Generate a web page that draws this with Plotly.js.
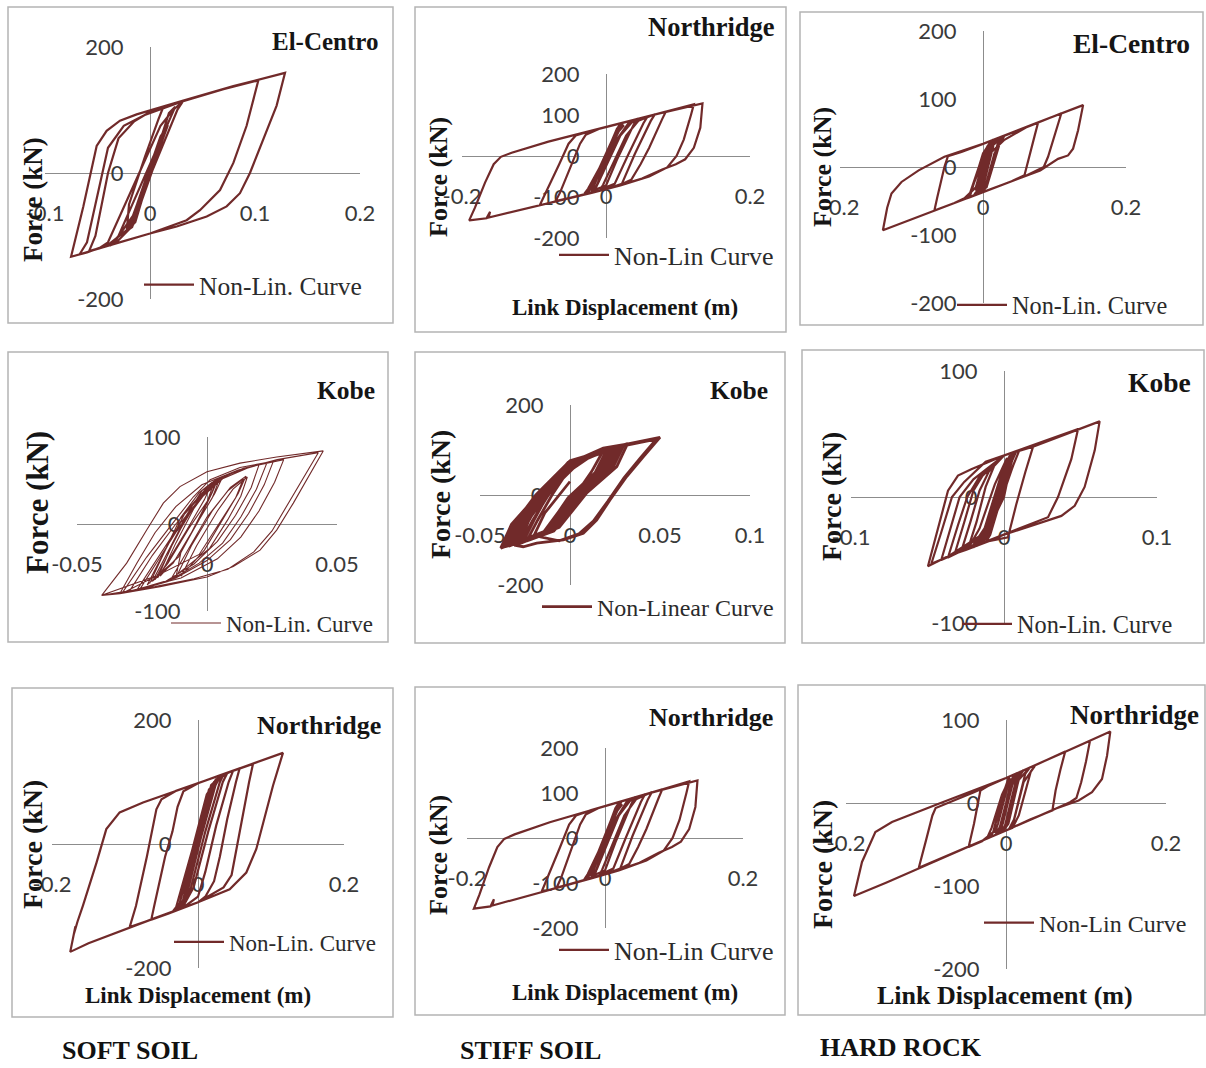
<!DOCTYPE html>
<html><head><meta charset="utf-8">
<script src="https://cdn.plot.ly/plotly-3.0.1.min.js"></script>
<style>html,body{margin:0;padding:0;background:#fff}</style>
</head><body><div id="chart" style="width:1206px;height:1068px"></div>
<script>
// ---------- DATA (link displacement in m, force in kN) ----------
const dispSoftElCentro = [0,0.010,0.016,0.012,-0.010,-0.020,-0.016,0.004,0.015,0.011,-0.012,-0.022,-0.017,0.006,0.017,0.013,-0.008,-0.019,-0.032,-0.049,-0.040,0.010,0.022,0.031,0.026,0.005,-0.015,-0.035,-0.038,-0.030,0.012,0.020,0.024,0.018,0.000,-0.020,-0.040,-0.060,-0.0752,-0.0635,-0.0508,-0.0413,-0.0286,-0.0127,0,0.0317,0.0794,0.1286,0.1206,0.1079,0.0952,0.0857,0.073,0.054,0.0254,0,-0.038,-0.067,-0.060,-0.048,-0.040,-0.025,-0.005,0.030,0.070,0.1032,0.092,0.0794,0.0667,0.0476,0.0349,0,-0.030,-0.058,-0.052,-0.040,-0.030,-0.015,0,0.012,0.008,-0.005,-0.020,-0.022,-0.016,0.004,0.014,0.010,-0.012,-0.019,-0.014,0];
const forceSoftElCentro = [0,45,72,62,-40,-85,-80,15,70,60,-50,-92,-86,25,76,66,-30,-88,-110,-120,-110,75,100,113,100,15,-65,-112,-115,-100,60,90,105,95,0,-88,-114,-126,-133,-53,43,67,83,93,99,115,138,159,107,53,0,-32,-53,-69,-85,-96,-115,-129,-110,-20,40,75,92,113,133,147,75,16,-27,-59,-75,-96,-111,-124,-100,0,55,82,97,102,85,25,-50,-90,-82,12,68,58,-48,-86,-78,0];

const dispStiffNorthridge = [0,0.012,0.018,0.014,-0.012,-0.026,-0.022,0.006,0.020,0.015,-0.008,-0.028,-0.023,0.010,0.024,0.018,-0.005,-0.020,-0.015,0.015,0.032,0.044,0.038,0.015,0.000,-0.018,-0.012,0.020,0.036,0.058,0.052,0.030,0.012,-0.008,-0.004,0.028,0.045,0.068,0.062,0.040,0.022,0.005,-0.030,-0.060,-0.092,-0.085,-0.065,-0.052,-0.042,-0.020,0.000,0.040,0.083,0.078,0.060,0.048,0.035,0.020,0.000,-0.035,-0.070,-0.064,-0.048,-0.036,-0.028,-0.010,0.030,0.070,0.122,0.118,0.108,0.098,0.085,0.060,0.020,-0.020,-0.060,-0.100,-0.140,-0.163,-0.161,-0.166,-0.190,-0.182,-0.168,-0.156,-0.146,-0.131,-0.080,0.000,0.070,0.134,0.131,0.122,0.110,0.097,0.078,0.050,0.000,-0.030,-0.025,0.000,0.015,0.025,0.018,-0.006,-0.020,-0.014,0.004,0.016,0.000];
const forceStiffNorthridge = [0,40,72,60,-40,-88,-80,15,78,66,-30,-90,-84,30,82,70,-20,-88,-80,40,82,91,75,-10,-72,-84,-70,50,82,97,80,0,-68,-82,-70,50,86,102,85,5,-68,-78,-94,-106,-120,-95,-20,30,50,62,71,88,108,90,20,-20,-58,-70,-81,-96,-110,-90,-20,30,52,66,84,103,126,100,40,0,-28,-50,-72,-90,-107,-124,-141,-150,-136,-152,-157,-126,-65,-20,-2,8,35,71,102,128,69,20,-8,-20,-33,-55,-81,-92,-80,0,55,75,62,-30,-85,-78,5,60,0];

const dispHardElCentro = [0,0.010,0.014,0.010,-0.004,-0.012,-0.008,0.008,0.020,0.016,0.000,-0.008,-0.004,0.012,0.026,0.022,0.006,-0.002,0.002,0.016,0.030,0.025,0.005,-0.015,-0.022,-0.018,0.000,0.010,0.006,-0.010,-0.026,-0.040,-0.068,-0.064,-0.054,-0.049,-0.030,0.000,0.040,0.077,0.072,0.058,0.040,0.000,-0.030,-0.060,-0.090,-0.140,-0.134,-0.128,-0.114,-0.090,-0.054,0.000,0.070,0.140,0.133,0.126,0.119,0.105,0.080,0.040,0.000,-0.020,-0.015,0.000,0.030,0.060,0.1096,0.100,0.091,0.085,0.060,0.030,0.000,-0.024,-0.018,0.000,0.012,0.008,-0.006,-0.010,-0.004,0.000];
const forceHardElCentro = [0,38,40,30,-30,-40,-38,25,42,38,-30,-40,-36,30,44,40,-24,-36,-34,20,46,40,-30,-43,-46,-42,20,36,30,-30,-46,-53,-64,-45,0,16,22,34,50,65,45,-12,-21,-37,-49,-61,-73,-93,-60,-39,-22,-5,15,34,63,91,54,27,17,12,-5,-21,-37,-45,-30,10,40,58,79,45,15,0,-13,-25,-37,-46,-38,18,38,30,-25,-35,-28,0];

const dispSoftKobe = [-0.022,-0.016,-0.008,0.000,0.004,0.001,-0.007,-0.015, -0.020,-0.015,-0.009,-0.002,0.003,0.000,-0.006,-0.013, -0.021,-0.013,-0.006,0.001,0.005,0.002,-0.005,-0.012, -0.018,-0.012,-0.005,0.002,0.006,0.003,-0.004,-0.011, -0.023,-0.017,-0.010,-0.003,0.002,-0.001,-0.008,-0.016, -0.019,-0.014,-0.007,0.000,0.004,0.002,-0.003,-0.010, -0.012,-0.006,0.002,0.009,0.015,0.012,0.006,-0.001, -0.010,-0.004,0.004,0.010,0.0155,0.013,0.008,0.001, -0.014,-0.007,0.000,0.008,0.014,0.011,0.004,-0.003, -0.0328,-0.0232,-0.0142,-0.0053,0.0012,0.0127,0.0255,0.022,0.016,0.009,0.000,-0.012, -0.030,-0.021,-0.012,-0.003,0.005,0.014,0.023,0.019,0.013,0.006,-0.003,-0.015, -0.027,-0.018,-0.010,-0.002,0.006,0.013,0.020,0.017,0.011,0.004,-0.005,-0.016, -0.0256,-0.018,-0.011,-0.003,0.006,0.017,0.0295,0.026,0.020,0.013,0.004,-0.010, -0.0335,-0.027,-0.020,-0.012,-0.002,0.012,0.027,0.0428,0.0365,0.0315,0.025,0.018,0.008,-0.005,-0.020, -0.0405,-0.0309,-0.0232,-0.0168,-0.0104,0,0.0127,0.0268,0.0447,0.0383,0.0332,0.0268,0.0204,0.0101,0,-0.018,-0.0335,-0.0405, -0.020,-0.012,-0.004,0.003];
const forceSoftKobe = [-68,-30,15,42,52,30,-5,-45, -64,-35,5,38,50,25,-10,-45, -66,-20,20,45,53,30,-5,-40, -60,-22,18,46,54,35,0,-38, -70,-35,8,36,48,28,-8,-48, -62,-28,12,40,50,36,5,-32, -62,-25,15,42,55,35,5,-30, -60,-25,15,40,54,32,5,-28, -64,-28,8,38,52,30,-2,-35, -80,-38,-3,31,51,65,72,45,12,-18,-42,-62, -78,-36,0,30,52,64,70,40,8,-22,-45,-66, -76,-34,2,32,54,62,68,42,10,-20,-46,-66, -74,-38,-5,28,52,66,74,48,15,-15,-40,-62, -80,-45,-10,20,45,62,74,82,50,24,-8,-32,-52,-63,-72, -82,-45,-7,24,43,60,70,77,84,51,24,-7,-30,-49,-61,-72,-80,-82, -60,-15,25,50];

const dispStiffKobe = [-0.0385,-0.0325,-0.018,0.002,0.030,0.024,0.006,-0.012, -0.036,-0.030,-0.016,0.002,0.028,0.022,0.004,-0.012, -0.033,-0.027,-0.014,0.002,0.026,0.020,0.006,-0.010, -0.030,-0.025,-0.017,-0.001,0.024,0.018,0.002,-0.010, -0.027,-0.021,-0.012,0.001,0.021,0.015,0.005,-0.009, -0.034,-0.028,-0.015,0.004,0.032,0.026,0.008,-0.009, -0.024,-0.018,-0.010,0.001,0.018,0.012,0.003,-0.008, -0.037,-0.031,-0.019,0.000,0.027,0.021,0.003,-0.013, -0.031,-0.026,-0.013,0.003,0.029,0.023,0.007,-0.008, -0.028,-0.023,-0.015,0.000,0.022,0.016,0.001,-0.012, -0.035,-0.029,-0.017,0.001,0.025,0.019,0.000,-0.015, -0.032,-0.026,-0.011,0.004,0.027,0.021,0.009,-0.006, -0.026,-0.020,-0.013,0.000,0.020,0.014,-0.001,-0.014, -0.0385,-0.0278,-0.0185,-0.0074,0.0037,0.0185,0.0315,0.050,0.0407,0.0315,0.0222,0.0148,0.0074,-0.0037,-0.0185,-0.026, -0.030,-0.022,-0.012,0.002,0.016,0.030,0.048,0.039,0.030,0.021,0.013,0.005,-0.006, -0.020,-0.014,0.000];
const forceStiffKobe = [-118,-65,0,78,112,62,0,-83, -115,-63,0,77,110,60,0,-80, -112,-62,0,74,106,58,0,-78, -110,-60,0,73,104,57,0,-77, -106,-58,0,70,100,55,0,-74, -114,-63,0,80,114,63,0,-80, -102,-56,0,66,95,52,0,-71, -116,-64,0,76,108,59,0,-81, -112,-60,2,76,110,60,-2,-76, -108,-58,-2,71,101,54,-4,-80, -114,-62,0,75,105,56,-3,-84, -110,-56,5,76,106,60,3,-72, -104,-56,-4,68,97,50,-6,-82, -118,-70,-19,33,78,104,113,128,85,41,-11,-56,-85,-100,-107,-115, -112,-50,5,60,98,110,124,82,38,-14,-58,-86,-102, -90,-40,30];

const dispHardKobe = [0,0.004,0.006,0.004,-0.008,-0.012,-0.009,0.002,0.007,0.004,-0.010,-0.015,-0.012,0.000,0.005,0.002,-0.012,-0.018,-0.014,-0.002,0.004,0.000,-0.014,-0.020,-0.016,-0.004,0.002,-0.006,-0.016,-0.0235,-0.018,-0.012,-0.006,0.000,0.008,0.002,-0.010,-0.020,-0.0279,-0.022,-0.016,-0.010,0.000,0.012,0.019,0.014,0.008,0.0026,-0.010,-0.025,-0.0322,-0.026,-0.020,-0.014,0.000,0.010,0.006,-0.004,-0.014,-0.030,-0.0366,-0.030,-0.024,-0.016,0.000,0.030,0.0484,0.044,0.0353,0.0288,0.010,-0.010,-0.030,-0.041,-0.035,-0.029,-0.020,0.000,0.010,0.006,-0.004,-0.014,-0.030,-0.0475,-0.041,-0.034,-0.026,-0.012,0.005,0.010,0.006,-0.006,-0.016,-0.035,-0.0497,-0.0431,-0.0366,-0.0301,-0.0214,0.000,0.019,0.0625,0.0593,0.0527,0.0462,0.0375,0.0157,0.000,-0.015,-0.012,-0.004,0.004,0.000,-0.010,-0.016,-0.012,0.000];
const forceHardKobe = [0,25,35,28,-25,-36,-30,15,36,28,-30,-37,-32,10,34,26,-30,-39,-35,5,33,25,-30,-40,-35,0,31,10,-25,-41,-20,8,26,33,36,20,-20,-38,-43,-20,5,20,33,38,40,20,-6,-32,-35,-42,-45,-20,5,17,33,37,25,-10,-30,-44,-48,-22,0,16,33,46,54,30,0,-16,-25,-35,-44,-50,-24,0,14,33,37,25,-10,-30,-44,-53,-28,0,12,28,35,37,25,-15,-31,-46,-55,-24,5,17,22,33,40,60,37,8,-7,-15,-24,-30,-37,-30,0,25,20,-20,-36,-30,0];

const dispSoftNorthridge = [0,0.010,0.020,0.025,0.020,0.000,-0.020,-0.028,-0.022,0.000,0.018,0.030,0.024,0.004,-0.016,-0.030,-0.026,-0.004,0.015,0.035,0.030,0.010,-0.010,-0.025,-0.020,0.002,0.022,0.040,0.034,0.014,-0.006,-0.020,-0.034,-0.030,-0.008,0.012,0.028,0.048,0.042,0.025,0.010,0.000,-0.015,-0.040,-0.064,-0.060,-0.045,-0.035,-0.028,-0.020,0.000,0.030,0.057,0.052,0.040,0.030,0.022,0.010,0.000,-0.040,-0.0936,-0.085,-0.070,-0.057,-0.050,-0.030,0.000,0.040,0.0753,0.070,0.060,0.052,0.046,0.035,0.000,-0.060,-0.120,-0.150,-0.175,-0.172,-0.168,-0.170,-0.165,-0.1575,-0.139,-0.1256,-0.1073,-0.0753,0.000,0.0753,0.1164,0.1027,0.089,0.0799,0.0662,0.0434,0.000,-0.030,-0.025,0.000,0.012,0.020,0.015,-0.005,-0.020,-0.016,0.000];
const forceSoftNorthridge = [0,50,95,105,90,0,-90,-105,-98,10,95,108,95,10,-85,-107,-100,0,88,112,100,20,-72,-104,-98,5,100,114,100,20,-70,-100,-108,-102,-10,80,108,118,100,30,-45,-85,-98,-112,-122,-100,-20,20,60,85,98,111,122,100,40,-20,-60,-85,-94,-112,-134,-100,-20,56,72,86,98,115,129,100,40,-10,-50,-70,-94,-120,-147,-160,-174,-155,-133,-145,-125,-99,-30,24,51,67,98,129,147,94,35,-8,-46,-73,-94,-107,-95,20,70,95,85,0,-80,-75,0];

const dispHardNorthridge = [0,0.006,0.010,0.007,-0.006,-0.012,-0.008,0.005,0.014,0.010,-0.004,-0.010,-0.006,0.008,0.018,0.014,0.000,-0.006,-0.002,0.012,0.022,0.017,0.003,-0.004,0.000,0.016,0.030,0.024,0.010,0.004,0.008,0.022,0.037,0.031,0.016,0.008,-0.010,-0.020,-0.016,-0.004,0.004,-0.006,-0.016,-0.030,-0.0467,-0.040,-0.032,-0.020,0.000,0.040,0.074,0.068,0.062,0.058,0.030,0.000,-0.050,-0.109,-0.100,-0.092,-0.088,-0.040,0.000,0.060,0.105,0.100,0.094,0.088,0.080,0.050,0.000,-0.080,-0.150,-0.190,-0.180,-0.1633,-0.1425,-0.0842,0.000,0.070,0.1304,0.1263,0.120,0.1075,0.0908,0.0617,0.000,-0.024,-0.018,-0.005,0.005,0.002,-0.010,-0.014,-0.008,0.000];
const forceHardNorthridge = [0,25,34,28,-25,-38,-33,20,36,30,-25,-37,-32,22,38,32,-25,-35,-30,25,40,33,-25,-34,-28,28,43,35,-20,-31,-28,25,46,38,-15,-30,-37,-41,-35,10,32,0,-35,-46,-53,-25,15,22,30,47,62,40,15,-9,-20,-33,-54,-78,-45,-15,-6,13,30,56,75,50,25,6,1,-12,-33,-67,-96,-112,-71,-35,-23,-1,30,60,86,57,29,13,3,-7,-33,-43,-30,10,30,20,-25,-36,-30,0];

// tick values
const xTicksA = [-0.1, 0, 0.1, 0.2];
const xTicksB = [-0.2, 0, 0.2];
const xTicksC = [-0.05, 0, 0.05];
const xTicksD = [-0.05, 0, 0.05, 0.1];
const xTicksE = [-0.1, 0, 0.1];
const yTicksA = [-200, 0, 200];
const yTicksB = [-200, -100, 0, 100, 200];
const yTicksC = [-100, 0, 100];
const yTicksD = [-200, -100, 0, 100];

// text
const eqNames = ['El-Centro','Northridge','El-Centro','Kobe','Kobe','Kobe','Northridge','Northridge','Northridge'];
const legendNames = ['Non-Lin. Curve','Non-Lin Curve','Non-Lin. Curve','Non-Lin. Curve','Non-Linear Curve','Non-Lin. Curve','Non-Lin. Curve','Non-Lin Curve','Non-Lin Curve'];
const soilLabels = ['SOFT SOIL','STIFF SOIL','HARD ROCK'];

// ---------- LAYOUT ----------
const W = 1206, H = 1068;
const lineColor = '#712a2a';
const serif = '"Liberation Serif", "Times New Roman", serif';
const sans = 'Lato, "Open Sans", sans-serif';

const panels = [
 {x:dispSoftElCentro, y:forceSoftElCentro, xr:[-0.1,0.2], yr:[-200,200], xt:xTicksA, yt:yTicksA, px:[45,360], py:[47,299], frame:[8,7,393,323], tp:[380,42,25], lg:[145,285,25.5], yt2:[33,200,27], xt2:null, lw:2.2},
 {x:dispStiffNorthridge, y:forceStiffNorthridge, xr:[-0.2,0.2], yr:[-200,200], xt:xTicksB, yt:yTicksB, px:[462,750], py:[74,238], frame:[415,7,786,332], tp:[777,27,26.5], lg:[560,255,26], yt2:[438,177,26], xt2:[625,307,23], lw:2.2},
 {x:dispHardElCentro, y:forceHardElCentro, xr:[-0.2,0.2], yr:[-200,200], xt:xTicksB, yt:yTicksB, px:[840,1126], py:[31,303], frame:[800,12,1203,325], tp:[1192,43,27.5], lg:[958,305,24.3], yt2:[822,167,26], xt2:null, lw:2.2},
 {x:dispSoftKobe, y:forceSoftKobe, xr:[-0.05,0.05], yr:[-100,100], xt:xTicksC, yt:yTicksC, px:[77,337], py:[437,611], frame:[8,352,388,642], tp:[377,390,25.5], lg:[172,623,23], yt2:[37,503,31], xt2:null, lw:1.1},
 {x:dispStiffKobe, y:forceStiffKobe, xr:[-0.05,0.1], yr:[-200,200], xt:xTicksD, yt:yTicksA, px:[480,750], py:[405,585], frame:[415,352,785,643], tp:[770,390,25.5], lg:[543,607,24], yt2:[440,495,28], xt2:null, lw:2.8},
 {x:dispHardKobe, y:forceHardKobe, xr:[-0.1,0.1], yr:[-100,100], xt:xTicksE, yt:yTicksC, px:[851,1157], py:[371,623], frame:[802,350,1204,643], tp:[1193,382,27.5], lg:[963,624,24.3], yt2:[832,497,28], xt2:null, lw:2.2},
 {x:dispSoftNorthridge, y:forceSoftNorthridge, xr:[-0.2,0.2], yr:[-200,200], xt:xTicksB, yt:yTicksA, px:[52,344], py:[720,968], frame:[12,688,393,1017], tp:[383,725,26], lg:[175,942,23], yt2:[32,845,28], xt2:[198,995,23], lw:2.2},
 {x:dispStiffNorthridge, y:forceStiffNorthridge, xr:[-0.2,0.2], yr:[-200,200], xt:xTicksB, yt:yTicksB, px:[467,743], py:[748,928], frame:[415,687,785,1015], tp:[775,717,26], lg:[560,950,26], yt2:[438,855,26], xt2:[625,992,23], lw:2.2},
 {x:dispHardNorthridge, y:forceHardNorthridge, xr:[-0.2,0.2], yr:[-200,100], xt:xTicksB, yt:yTicksD, px:[846,1166], py:[720,969], frame:[798,685,1205,1015], tp:[1201,715,27], lg:[985,923,24], yt2:[822,865,28], xt2:[1005,995,26], lw:2.2}
];
const soilPos = [[60,1050],[458,1050],[818,1047]];

const layout = {width:W, height:H, margin:{l:0,r:0,t:0,b:0}, paper_bgcolor:'#ffffff', plot_bgcolor:'rgba(0,0,0,0)', showlegend:true, annotations:[], shapes:[]};
const data = [];
const axisCommon = {showline:true, linecolor:'#8c8c8c', linewidth:1, showgrid:false, zeroline:false, ticks:'outside', tickcolor:'rgba(0,0,0,0)', tickfont:{family:sans, size:22, color:'#3a3a3a'}, fixedrange:true, layer:'below traces'};

panels.forEach((p,i)=>{
  const n = i+1, s = n===1 ? '' : String(n);
  const xd = [p.px[0]/W, p.px[1]/W], yd = [1-p.py[1]/H, 1-p.py[0]/H];
  const xZero = xd[0] + (0-p.xr[0])/(p.xr[1]-p.xr[0])*(xd[1]-xd[0]);
  const yZero = yd[0] + (0-p.yr[0])/(p.yr[1]-p.yr[0])*(yd[1]-yd[0]);
  layout['xaxis'+s] = Object.assign({}, axisCommon, {domain:xd, range:p.xr, anchor:'free', position:yZero, tickvals:p.xt, ticktext:p.xt.map(String), ticklen:21});
  layout['yaxis'+s] = Object.assign({}, axisCommon, {domain:yd, range:p.yr, anchor:'free', position:xZero, tickvals:p.yt, ticktext:p.yt.map(String), ticklen:22});
  data.push({type:'scatter', mode:'lines', x:p.x, y:p.y, xaxis:'x'+s, yaxis:'y'+s, name:legendNames[i], legend:'legend'+s, showlegend:true, line:{color:lineColor, width:p.lw}, hoverinfo:'skip'});
  layout['legend'+s] = {x:(p.lg[0]-6)/W, y:1-p.lg[1]/H, xanchor:'left', yanchor:'middle', bgcolor:'rgba(0,0,0,0)', borderwidth:0, itemwidth:50, font:{family:serif, size:p.lg[2], color:'#2b2b2b'}};
  layout.shapes.push({type:'rect', xref:'paper', yref:'paper', x0:p.frame[0]/W, x1:p.frame[2]/W, y0:1-p.frame[3]/H, y1:1-p.frame[1]/H, line:{color:'#b4b4b4', width:1.5}, layer:'below'});
  layout.annotations.push({xref:'paper', yref:'paper', x:p.tp[0]/W, y:1-p.tp[1]/H, xanchor:'right', yanchor:'middle', showarrow:false, text:'<b>'+eqNames[i]+'</b>', font:{family:serif, size:p.tp[2], color:'#151515'}});
  layout.annotations.push({xref:'paper', yref:'paper', x:p.yt2[0]/W, y:1-p.yt2[1]/H, xanchor:'center', yanchor:'middle', showarrow:false, textangle:-90, text:'<b>Force (kN)</b>', font:{family:serif, size:p.yt2[2], color:'#151515'}});
  if (p.xt2) layout.annotations.push({xref:'paper', yref:'paper', x:p.xt2[0]/W, y:1-p.xt2[1]/H, xanchor:'center', yanchor:'middle', showarrow:false, text:'<b>Link Displacement (m)</b>', font:{family:serif, size:p.xt2[2], color:'#151515'}});
});
soilLabels.forEach((t,i)=>{
  layout.annotations.push({xref:'paper', yref:'paper', x:soilPos[i][0]/W, y:1-soilPos[i][1]/H, xanchor:'left', yanchor:'middle', showarrow:false, text:'<b>'+t+'</b>', font:{family:serif, size:26, color:'#111'}});
});

Plotly.newPlot('chart', data, layout, {displayModeBar:false, staticPlot:true});
</script>
</body></html>
